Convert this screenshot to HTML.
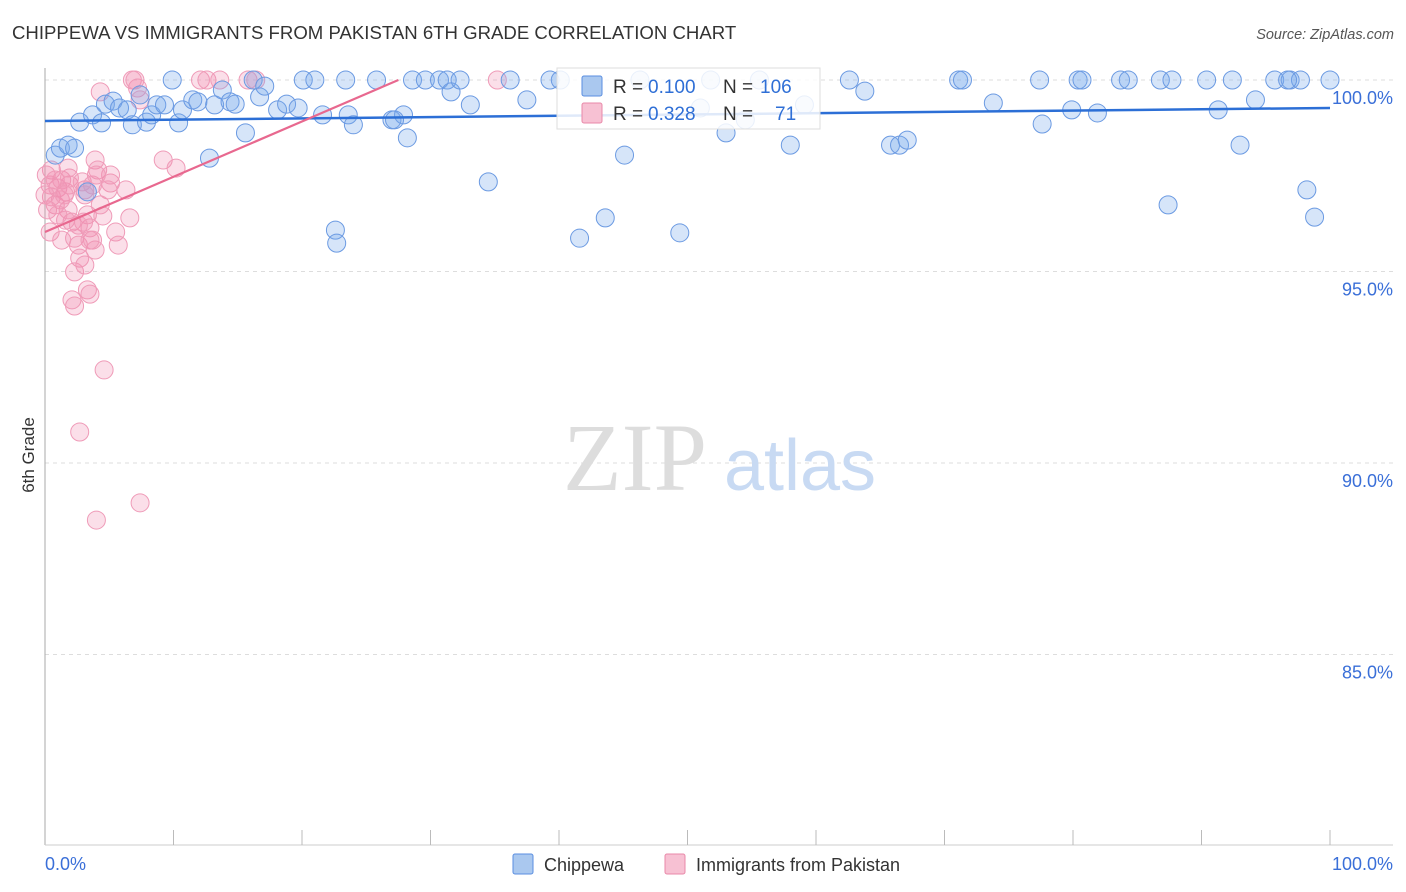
<!DOCTYPE html>
<html><head><meta charset="utf-8"><style>
body{margin:0;background:#fff;font-family:"Liberation Sans",sans-serif;}
svg{display:block}
</style></head><body>
<svg width="1406" height="892" xmlns="http://www.w3.org/2000/svg">
<text x="12" y="39" font-size="18.6" fill="#333">CHIPPEWA VS IMMIGRANTS FROM PAKISTAN 6TH GRADE CORRELATION CHART</text>
<text x="1394" y="39" font-size="14.5" fill="#555" font-style="italic" text-anchor="end">Source: ZipAtlas.com</text>
<g id="grid"></g>
<g><text x="635" y="490" font-size="96" fill="#ddd" font-family="Liberation Serif" text-anchor="middle">ZIP</text><text x="800" y="490" font-size="72" fill="#c8daf3" text-anchor="middle">atlas</text></g>
<line x1="45" y1="68" x2="45" y2="845" stroke="#aaa"/>
<line x1="45" y1="845" x2="1393" y2="845" stroke="#ccc"/>
<text transform="translate(34,455) rotate(-90)" font-size="17" fill="#333" text-anchor="middle">6th Grade</text>
<g id="ticks"></g>
<g id="pts"></g>
<g id="trends"></g>
<g>
<rect x="557" y="68" width="263" height="61" fill="#fff" fill-opacity="0.85" stroke="#ddd"/>
<rect x="582" y="76" width="20" height="20" fill="#aac8ef" stroke="#5a8ee0" rx="2"/>
<text y="93" font-size="19" fill="#333"><tspan x="613">R =</tspan><tspan x="648" fill="#2f6fd6">0.100</tspan><tspan x="723">N =</tspan><tspan x="760" fill="#2f6fd6">106</tspan></text>
<rect x="582" y="103" width="20" height="20" fill="#f7c1d3" stroke="#e888a8" rx="2"/>
<text y="120" font-size="19" fill="#333"><tspan x="613">R =</tspan><tspan x="648" fill="#2f6fd6">0.328</tspan><tspan x="723">N =</tspan><tspan x="775" fill="#2f6fd6">71</tspan></text>
</g>
<g>
<rect x="513" y="854" width="20" height="20" fill="#aac8ef" stroke="#5a8ee0" rx="2"/>
<text x="544" y="871" font-size="18" fill="#333">Chippewa</text>
<rect x="665" y="854" width="20" height="20" fill="#f7c1d3" stroke="#e888a8" rx="2"/>
<text x="696" y="871" font-size="18" fill="#333">Immigrants from Pakistan</text>
</g>
</svg>
<script>
const yTicks=[100,95,90,85];
const yTickLabels=["100.0%","95.0%","90.0%","85.0%"];
const xTicks=[0,10,20,30,40,50,60,70,80,90,100];
const xEndLabels=["0.0%","100.0%"];
const blueX=[0.8,1.2,1.8,2.3,2.7,3.3,3.7,4.4,4.7,5.3,5.8,6.4,6.8,7.4,7.9,8.3,8.7,9.3,9.9,10.4,10.7,11.5,11.9,12.8,13.2,13.8,14.4,14.8,15.6,16.2,16.7,17.1,18.1,18.8,19.7,20.1,21.0,21.6,22.6,22.7,23.4,23.6,24.0,25.8,27.0,27.9,28.2,28.6,29.6,30.7,31.3,31.6,32.3,33.1,34.5,36.2,37.5,39.3,41.6,43.6,45.1,46.3,49.4,51.0,51.8,53.0,54.5,55.6,58.0,59.1,62.6,63.8,65.8,66.5,67.1,71.1,71.4,73.8,77.4,77.6,80.4,80.7,79.9,81.9,83.7,84.3,86.8,87.7,87.4,90.4,91.3,92.4,93.0,94.2,95.7,96.9,97.7,98.2,98.8,100,96.7,40.1,27.2];
const blueY=[98.04,98.22,98.30,98.22,98.90,97.08,99.09,98.88,99.37,99.45,99.27,99.22,98.83,99.61,98.90,99.09,99.35,99.35,100,98.88,99.22,99.48,99.43,97.96,99.35,99.74,99.43,99.37,98.62,100,99.56,99.84,99.22,99.37,99.27,100,100,99.09,96.08,95.74,100,99.09,98.83,100,98.96,99.09,98.49,100,100,100,100,99.69,100,99.35,97.34,100,99.48,100,95.87,96.40,98.04,100,96.01,99.27,100,98.62,98.96,100,98.30,99.35,100,99.71,98.30,98.30,98.43,100,100,99.40,100,98.85,100,100,99.22,99.14,100,100,100,100,96.74,100,99.22,100,98.30,99.48,100,100,100,97.13,96.42,100,100,100,98.96];
const pinkX=[0.5,0.4,0.5,0.8,0.2,0.4,1.0,1.3,1.6,1.8,1.9,2.1,2.3,2.6,2.7,2.3,2.1,2.3,3.1,3.3,3.5,3.7,3.9,3.9,4.1,4.5,5.1,5.1,5.5,5.7,6.3,6.6,6.8,7.2,7.4,9.2,10.2,3.3,3.5,4.6,2.7,4.0,7.4,12.1,12.6,15.8,35.2,0.1,0.8,1.2,1.5,1.6,3.1,3.5,0,1.0,1.9,2.9,4.3,4.9,1.3,3.0,3.7,7.0,16.4,13.6,4.0,3.1,2.6,4.3,1.8];
const pinkY=[97.65,97.26,96.95,96.74,96.61,96.03,97.18,97.39,97.08,96.61,97.26,96.29,95.87,95.69,95.35,94.99,94.26,94.10,97.13,96.48,96.14,95.82,95.56,97.91,97.65,96.45,97.31,97.52,96.03,95.69,97.13,96.40,100,99.79,99.48,97.91,97.70,94.52,94.41,92.43,90.81,88.51,88.96,100,100,100,100,97.52,97.39,96.87,97.00,96.34,95.17,95.82,97.00,96.48,97.44,97.34,99.69,97.13,95.82,96.29,97.26,100,100,100,97.52,97.00,96.21,96.74,97.70];
const trendBlueY=[98.93,99.27];
const trendPink=[[0,96.03],[27.5,100]];
const NS="http://www.w3.org/2000/svg";
function sx(v){return 45+v*12.85;}
function sy(v){return 80+(100-v)*38.3;}
function mk(t,a,p){const e=document.createElementNS(NS,t);for(const k in a)e.setAttribute(k,a[k]);p.appendChild(e);return e;}
const grid=document.getElementById('grid'),ticks=document.getElementById('ticks');
yTicks.forEach((v,i)=>{
 const l=mk('line',{x1:45,x2:1393,y1:sy(v),y2:sy(v),stroke:'#ddd','stroke-dasharray':'4,4'},grid);
 
 
 const t=mk('text',{x:1393,y:sy(v)+24,'font-size':18,fill:'#3a6fd8','text-anchor':'end'},ticks);
 t.textContent=yTickLabels[i];
 
 
});
xTicks.forEach(v=>{
 if(v===0)return;
 const l=mk('line',{x1:sx(v),x2:sx(v),y1:830,y2:845,stroke:'#bbb'},ticks);
 
 
});
[[0,'start',45],[1,'end',1393]].forEach(([i,a,x])=>{
 const t=mk('text',{x:x,y:870,'font-size':18,fill:'#3a6fd8','text-anchor':a},ticks);
 t.textContent=xEndLabels[i];
 
 
});
const pts=document.getElementById('pts');
pinkX.forEach((x,i)=>{
 const c=mk('circle',{cx:sx(x),cy:sy(pinkY[i]),r:9,fill:'rgba(240,140,175,0.28)',stroke:'#ef9bb8','stroke-width':1},pts);
 
 
});
blueX.forEach((x,i)=>{
 const c=mk('circle',{cx:sx(x),cy:sy(blueY[i]),r:9,fill:'rgba(120,170,235,0.3)',stroke:'#6b9ae2','stroke-width':1},pts);
 
 
});
const tr=document.getElementById('trends');
const b=mk('line',{x1:sx(0),y1:sy(trendBlueY[0]),x2:sx(100),y2:sy(trendBlueY[1]),stroke:'#2c6fd6','stroke-width':2.5},tr);


const p=mk('line',{x1:sx(trendPink[0][0]),y1:sy(trendPink[0][1]),x2:sx(trendPink[1][0]),y2:sy(trendPink[1][1]),stroke:'#e8688f','stroke-width':2.2},tr);


</script>
</body></html>
